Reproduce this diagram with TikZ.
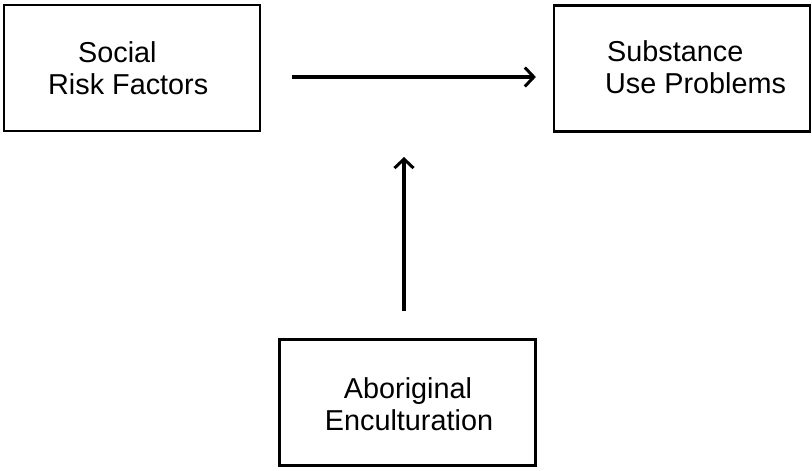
\documentclass[tikz,border=0pt]{standalone}
\usepackage{fontspec}
\setmainfont{Liberation Sans}
\usetikzlibrary{arrows.meta}
\begin{document}
\begin{tikzpicture}[x=1pt,y=-1pt,
  box/.style={draw=black, line width=2.2pt, rectangle, inner sep=0pt,
              minimum width=256pt, minimum height=126pt},
  lbl/.style={anchor=base west, inner sep=0pt,
              font=\fontsize{28.8pt}{32pt}\selectfont},
  link/.style={line width=3.2pt,
               -{Straight Barb[length=9pt,width=19pt,line width=3pt]}}]
  \useasboundingbox (0,0) rectangle (812,471);
  % boxes
  \node[box] (risk) at (132,68) {};
  \node[box] (subst) at (682,68.5) {};
  \node[box] (encult) at (407.5,402.5) {};
  % box texts
  \node[lbl] (riskA) at (78,62) {Social};
  \node[lbl] (riskB) at (48,94) {Risk Factors};
  \node[lbl] (substA) at (607,61) {Substance};
  \node[lbl] (substB) at (605,93) {Use Problems};
  \node[lbl, anchor=base] (encultA) at (408,398) {Aboriginal};
  \node[lbl, anchor=base] (encultB) at (409,430) {Enculturation};
  % main effect
  \draw[link, shorten <=31pt, shorten >=17pt] (risk.east |- 0,77) coordinate (hs) -- (subst.west |- hs);
  % moderating path
  \coordinate (mod) at (404,157);
  \draw[link, shorten <=27pt] (encult.north -| mod) -- (mod);
\end{tikzpicture}
\end{document}
